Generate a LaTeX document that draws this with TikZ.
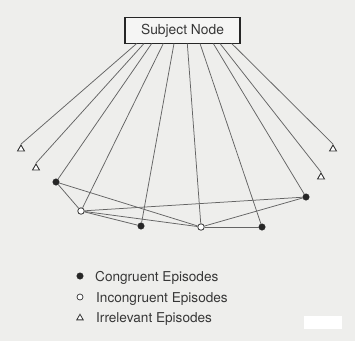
\documentclass[tikz,border=0pt]{standalone}
\usepackage{fontspec}
\setmainfont{TeX Gyre Heros}
\usetikzlibrary{shapes.geometric}
\definecolor{paper}{RGB}{238,238,236}
\definecolor{ink}{RGB}{55,55,55}
\definecolor{wire}{RGB}{100,100,100}
\tikzset{
  congruent/.style={circle, fill=black!85, draw=black!85, inner sep=0pt, minimum size=6.5pt},
  incongruent/.style={circle, fill=white, draw=black!80, line width=0.8pt, inner sep=0pt, minimum size=6.5pt},
  irrelevant/.style={regular polygon, regular polygon sides=3, draw=black!80, line width=0.9pt, fill=white, inner sep=0pt, minimum size=8pt},
  link/.style={draw=wire, line width=0.75pt},
  label/.style={text=ink, font=\fontsize{13.6}{15}\selectfont, anchor=base west, inner sep=0pt},
}
\begin{document}
\begin{tikzpicture}[x=1pt, y=-1pt]
  % page and paper
  \fill[paper] (0,0) rectangle (355,341);
  \useasboundingbox (0,0) rectangle (355,341);
  \fill[white] (304,316) rectangle (342,329);

  % subject node
  \node[draw=black!85, line width=1.4pt, fill=white!40!paper, minimum width=115pt, minimum height=26pt,
        text=ink, font=\fontsize{13.8}{15}\selectfont] (subj) at (182.5,30.5) {Subject Node};

  % attachment points along the bottom of the subject node
  \foreach \n/\x in {1/136.7, 2/144, 3/151.7, 4/163.3, 5/174, 6/187.3, 7/200, 8/213.3, 9/220, 10/231.7}
    \coordinate (s\n) at (\x,43.5);

  % episodes
  \node[irrelevant]  (t1) at (21,149) {};
  \node[irrelevant]  (t2) at (36,168) {};
  \node[congruent]   (c1) at (56,182) {};
  \node[incongruent] (i1) at (81,211) {};
  \node[congruent]   (c2) at (141,226) {};
  \node[incongruent] (i2) at (201,227) {};
  \node[congruent]   (c3) at (262,227) {};
  \node[congruent]   (c4) at (306,197) {};
  \node[irrelevant]  (t3) at (321,177) {};
  \node[irrelevant]  (t4) at (333,149) {};

  % links from the subject node to each episode
  \draw[link] (s1) -- (t1.north);
  \draw[link] (s2) -- (t2.north);
  \draw[link] (s3) -- (c1);
  \draw[link] (s4) -- (i1);
  \draw[link] (s5) -- (c2);
  \draw[link] (s6) -- (i2);
  \draw[link] (s7) -- (c3);
  \draw[link] (s8) -- (c4);
  \draw[link] (s9) -- (t3.north);
  \draw[link] (s10) -- (t4.north);

  % links among episodes
  \draw[link] (c1) -- (i1);
  \draw[link] (c1) -- (i2);
  \draw[link] (i1) -- (c4);
  \draw[link] (i1) -- (i2);
  \draw[link] (i1) -- (c2);
  \draw[link] (i2) -- (c3);
  \draw[link] (i2) -- (c4);

  % legend
  \node[congruent]   (k1) at (80,276) {};
  \node[incongruent, minimum size=6pt, line width=0.7pt] (k2) at (80,297) {};
  \node[irrelevant, minimum size=7.5pt, line width=0.8pt]  (k3) at (80,318) {};
  \node[label] (l1) at (95,281.5) {Congruent Episodes};
  \node[label] (l2) at (96,302) {Incongruent Episodes};
  \node[label] (l3) at (96,322.5) {Irrelevant Episodes};
\end{tikzpicture}
\end{document}
